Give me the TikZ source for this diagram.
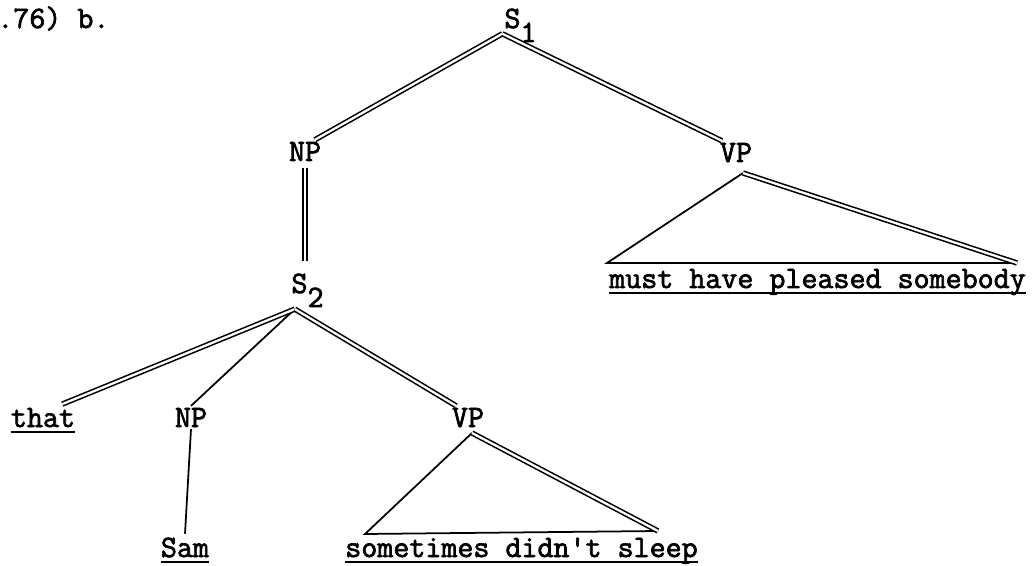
\documentclass[tikz,border=0pt]{standalone}
\usepackage{fontspec}
\setmonofont{Latin Modern Mono}[FakeBold=2.2]
\newcommand{\treefont}{\ttfamily\fontsize{17.7}{20}\selectfont}

\begin{document}
\begin{tikzpicture}[
    cat/.style={inner sep=1pt,anchor=base,font=\treefont},
    leaf/.style={inner xsep=0pt,inner ysep=2pt,anchor=base,font=\treefont},
    br/.style={line width=1pt},
    dbl/.style={double,double distance=1.3pt,line width=0.9pt},
    uline/.style={line width=1.4pt}
  ]
    \useasboundingbox (0,0) rectangle (20.66,-11.32);

    \node[leaf,anchor=base west] (tag) at (-0.06,-0.56) {.76) b.};

    \node[cat] (s1) at (10.41,-0.56) {S\raisebox{-.45em}{1}};
    \node[cat] (np1) at (6.10,-3.22) {NP};
    \node[cat] (vp1) at (14.72,-3.24) {VP};
    \node[leaf] (mhps) at (16.35,-5.76) {must have pleased somebody};

    \draw[dbl] (s1.205) -- (np1.50);
    \draw[dbl] (s1.205) -- (vp1.140);

    \coordinate (tri1top) at (14.86,-3.46);
    \coordinate (tri1l) at (12.14,-5.26);
    \coordinate (tri1r) at (20.34,-5.26);
    \draw[br] (tri1top) -- (tri1l) -- (tri1r);
    \draw[dbl] (tri1top) -- (tri1r);

    \node[cat] (s2) at (6.15,-5.86) {S\raisebox{-.45em}{2}};
    \draw[dbl,shorten <=3pt,shorten >=6pt] (np1.south) -- (np1.south |- s2.north);

    \node[leaf] (that) at (0.86,-8.54) {that};
    \node[cat] (np2) at (3.82,-8.54) {NP};
    \node[cat] (vp2) at (9.36,-8.54) {VP};

    \draw[br] (s2.236) -- (np2.north);
    \draw[dbl] (s2.236) -- (that.35);
    \draw[dbl] (s2.236) -- (vp2.135);

    \node[leaf] (sam) at (3.70,-11.14) {Sam};
    \node[leaf] (sds) at (10.43,-11.14) {sometimes didn't sleep};
    \draw[br] (np2.south) -- (sam.north);

    \coordinate (tri2top) at (9.44,-8.66);
    \coordinate (tri2l) at (7.30,-10.68);
    \coordinate (tri2r) at (13.16,-10.62);
    \draw[br] (tri2top) -- (tri2l) -- (tri2r);
    \draw[dbl] (tri2top) -- (tri2r);

    \draw[uline] ([yshift=-1mm]that.base west) -- ([yshift=-1mm]that.base east);
    \draw[uline] ([yshift=-1mm]sam.base west) -- ([yshift=-1mm]sam.base east);
    \draw[uline] ([yshift=-1mm]sds.base west) -- ([yshift=-1mm]sds.base east);
    \draw[uline] ([yshift=-1mm]mhps.base west) -- ([yshift=-1mm]mhps.base east);
  \end{tikzpicture}
\end{document}
